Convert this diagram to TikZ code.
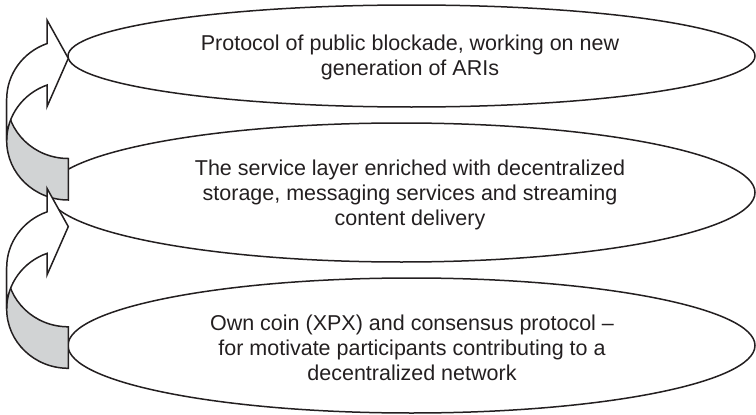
\documentclass[tikz,border=0pt]{standalone}
\usepackage{fontspec}
\setmainfont{Liberation Sans}
\usetikzlibrary{shapes.geometric}

\definecolor{inkline}{HTML}{231F20}
\definecolor{bandgrey}{HTML}{D1D3D4}

% Curved ribbon arrow: grey lower band ending in a flat tail,
% white upper band ending in an arrowhead pointing right.
% Outer/inner edges are quarter ellipses (rx = 61.6, ry = 59.3),
% the second one shifted up by the band thickness (41.5).
\tikzset{
  layer/.style={draw=inkline, line width=1.5pt, ellipse, inner sep=0pt},
  layertext/.style={text=inkline, align=center, inner sep=0pt,
    font=\fontsize{21.5}{25}\selectfont},
  bandline/.style={draw=inkline, line width=1.5pt, line join=miter},
  pics/ribbonarrow/.style={code={
    % grey underside: from the left edge down to the tail
    \path[bandline, fill=bandgrey]
      (68.3,158.5) arc[start angle=90, end angle=180, x radius=61.6, y radius=59.3]
      -- (6.7,140.7)
      arc[start angle=180, end angle=90, x radius=61.6, y radius=59.3]
      -- cycle;
    % white top side with the arrowhead
    \path[bandline, fill=white]
      (6.7,99.2) arc[start angle=180, end angle=249.77, x radius=61.6, y radius=59.3]
      -- (47,20) -- (68.3,58.3) -- (47,106.7) -- (47,85.06)
      arc[start angle=249.77, end angle=180, x radius=61.6, y radius=59.3]
      -- cycle;
  }}
}

\begin{document}
\begin{tikzpicture}[x=1pt, y=-1pt]
  \useasboundingbox (0,0) rectangle (756,415);

  % three layers, top to bottom
  \node[layer, minimum width=687pt, minimum height=102pt] (top) at (411.5,56) {};
  \node[layer, minimum width=707pt, minimum height=139pt] (mid) at (401.5,192.5) {};
  \node[layer, minimum width=687pt, minimum height=135pt] (bot) at (411.5,345.5) {};

  % arrows leading from each layer to the one above
  \pic at (0,0) {ribbonarrow};
  \pic at (0,168.3) {ribbonarrow};

  \node[layertext] (toptext) at (410,57) {Protocol of public blockade, working on new\\generation of ARIs};
  \node[layertext] (midtext) at (410,194.5) {The service layer enriched with decentralized\\storage, messaging services and streaming\\content delivery};
  \node[layertext] (bottext) at (412,347.5) {Own coin (XPX) and consensus protocol –\\for motivate participants contributing to a\\decentralized network};
\end{tikzpicture}
\end{document}
